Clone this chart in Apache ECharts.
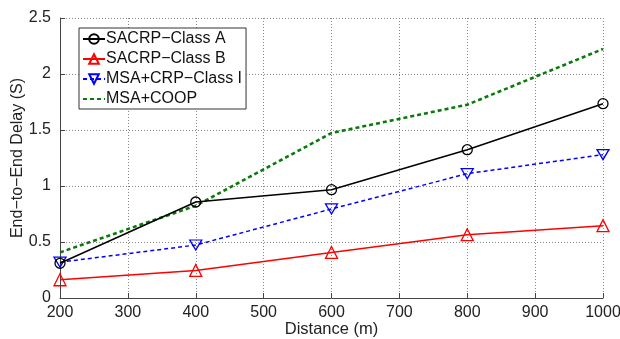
<!DOCTYPE html>
<html><head><meta charset="utf-8">
<script src="https://cdn.jsdelivr.net/npm/echarts@6/dist/echarts.min.js"></script>
<style>html,body{margin:0;padding:0;background:#fff}#c{width:620px;height:339px}</style>
</head><body><div id="c"></div>
<script>
const distances = [200, 400, 600, 800, 1000];
const sacrpA = [0.31, 0.857, 0.967, 1.324, 1.735];
const sacrpB = [0.163, 0.246, 0.407, 0.565, 0.646];
const msaCrpI = [0.32, 0.473, 0.795, 1.11, 1.28];
const msaCoop = [0.407, 0.824, 1.473, 1.726, 2.223];
const seriesNames = ['SACRP\u2212Class A', 'SACRP\u2212Class B', 'MSA+CRP\u2212Class I', 'MSA+COOP'];

const pair = arr => distances.map((d, i) => [d, arr[i]]);
const font = 'Liberation Sans, Arial, sans-serif';
const clear = 'rgba(255,255,255,0)';
const chart = echarts.init(document.getElementById('c'));
chart.setOption({
  animation: false,
  backgroundColor: '#fff',
  grid: { left: 60, right: 17, top: 18, bottom: 41, show: false, containLabel: false, outerBoundsMode: 'none' },
  xAxis: {
    type: 'value', min: 200, max: 1000, interval: 100,
    name: 'Distance (m)', nameLocation: 'middle', nameGap: 23, nameMoveOverlap: false,
    nameTextStyle: { fontFamily: font, fontSize: 16.5, color: '#222' },
    axisLine: { show: true, lineStyle: { color: '#444', width: 1 } },
    axisTick: { show: true, inside: true, length: 5, lineStyle: { color: '#444' } },
    axisLabel: { fontFamily: font, fontSize: 16, color: '#222', margin: 7, formatter: v => String(v) },
    splitLine: { show: true, lineStyle: { color: '#888', type: [1, 2], width: 1 } }
  },
  yAxis: {
    type: 'value', min: 0, max: 2.5, interval: 0.5,
    name: 'End\u2212to\u2212End Delay (S)', nameLocation: 'middle', nameGap: 34, nameMoveOverlap: false,
    nameTextStyle: { fontFamily: font, fontSize: 16, color: '#222' },
    axisLine: { show: true, lineStyle: { color: '#444', width: 1 } },
    axisTick: { show: true, inside: true, length: 5, lineStyle: { color: '#444' } },
    axisLabel: { fontFamily: font, fontSize: 16, color: '#222', margin: 9, formatter: v => String(v) },
    splitLine: { show: true, lineStyle: { color: '#888', type: [1, 2], width: 1 } }
  },
  legend: {
    orient: 'vertical', left: 79, top: 28,
    padding: [3, 4, 2, 3], itemGap: 4, itemWidth: 22, itemHeight: 12,
    backgroundColor: '#fff', borderColor: '#333', borderWidth: 1, borderRadius: 0,
    textStyle: { fontFamily: font, fontSize: 16, color: '#111', padding: [0, 0, 0, -4] },
    data: [seriesNames[0], seriesNames[1], seriesNames[2],
      { name: seriesNames[3], itemStyle: { color: clear, borderColor: clear, borderWidth: 0 } }]
  },
  series: [
    { name: seriesNames[0], type: 'line', data: pair(sacrpA), color: '#000',
      symbol: 'circle', symbolSize: 10,
      itemStyle: { color: clear, borderColor: '#000', borderWidth: 1.3 },
      lineStyle: { color: '#000', width: 1.5 }, z: 4 },
    { name: seriesNames[1], type: 'line', data: pair(sacrpB), color: '#f00',
      symbol: 'triangle', symbolSize: 12,
      itemStyle: { color: clear, borderColor: '#f00', borderWidth: 1.3 },
      lineStyle: { color: '#f00', width: 1.5 }, z: 3 },
    { name: seriesNames[2], type: 'line', data: pair(msaCrpI), color: '#00f',
      symbol: 'path://M0,0 L10,0 L5,9 Z', symbolSize: [12, 10],
      itemStyle: { color: clear, borderColor: '#00f', borderWidth: 1.3 },
      lineStyle: { color: '#00f', width: 1.5, type: [4, 3] }, z: 3 },
    { name: seriesNames[3], type: 'line', data: pair(msaCoop), color: '#080',
      symbol: 'none',
      lineStyle: { color: '#0a7a0a', width: 2.6, type: [4, 3] }, z: 2 }
  ]
});
</script></body></html>
